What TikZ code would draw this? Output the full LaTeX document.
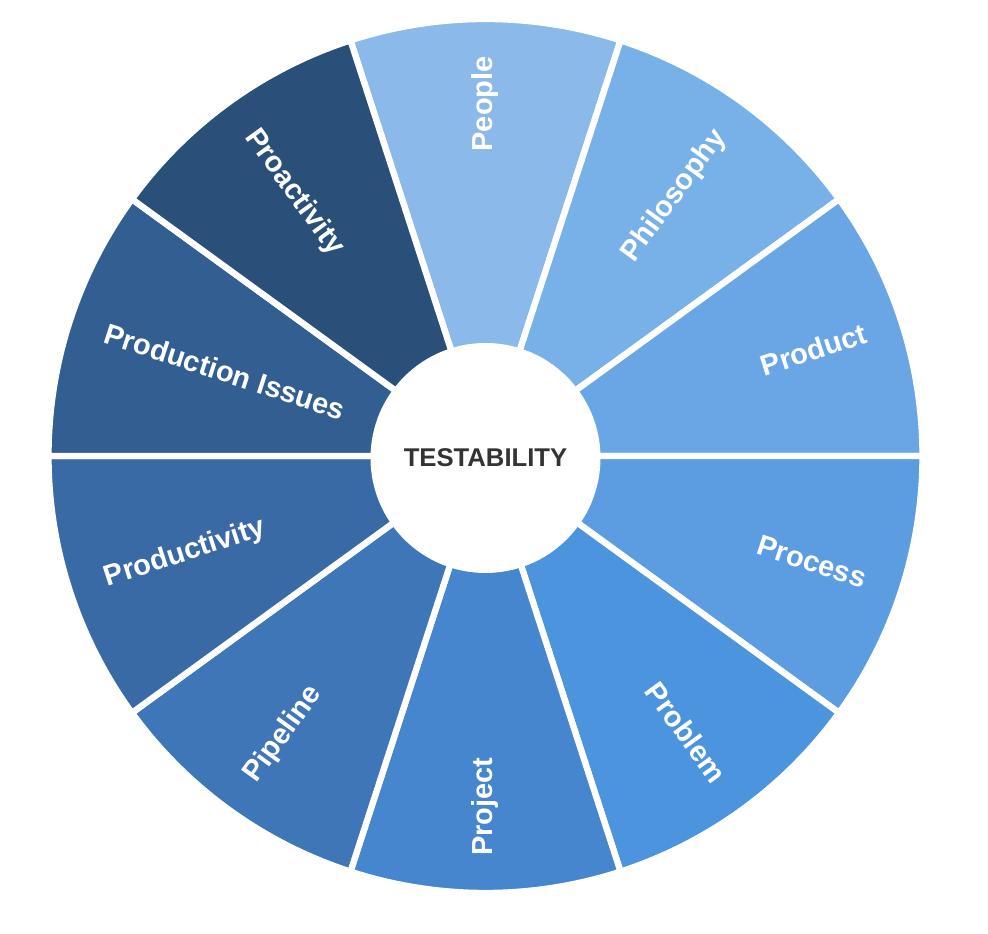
\documentclass[tikz,border=0pt]{standalone}
\usepackage{fontspec}
\setsansfont{Liberation Sans}
\definecolor{cpeople}{HTML}{8AB9EA}
\definecolor{cphilosophy}{HTML}{78B0E8}
\definecolor{cproduct}{HTML}{6AA6E5}
\definecolor{cprocess}{HTML}{5C9DE2}
\definecolor{cproblem}{HTML}{4C94DE}
\definecolor{cproject}{HTML}{4586CF}
\definecolor{cpipeline}{HTML}{3E76B8}
\definecolor{cproductivity}{HTML}{3A6AA6}
\definecolor{cissues}{HTML}{325E92}
\definecolor{cproactivity}{HTML}{2A4F78}
\definecolor{hubtext}{HTML}{333333}
\tikzset{
  sector/.style={draw=white,line width=3.6pt,line join=round},
  seglabel/.style={text=white,inner sep=0pt,font=\sffamily\bfseries\fontsize{16.5}{18}\selectfont},
}

\begin{document}
\begin{tikzpicture}[x=0.2mm,y=0.2mm]
                    \useasboundingbox (-485.5,-478) rectangle (502.5,456);
                    \draw[sector,fill=cpeople] (0,0) -- (72:437) arc[start angle=72,end angle=108,radius=437] -- cycle;
                    \draw[sector,fill=cphilosophy] (0,0) -- (36:437) arc[start angle=36,end angle=72,radius=437] -- cycle;
                    \draw[sector,fill=cproduct] (0,0) -- (0:437) arc[start angle=0,end angle=36,radius=437] -- cycle;
                    \draw[sector,fill=cprocess] (0,0) -- (-36:437) arc[start angle=-36,end angle=0,radius=437] -- cycle;
                    \draw[sector,fill=cproblem] (0,0) -- (-72:437) arc[start angle=-72,end angle=-36,radius=437] -- cycle;
                    \draw[sector,fill=cproject] (0,0) -- (-108:437) arc[start angle=-108,end angle=-72,radius=437] -- cycle;
                    \draw[sector,fill=cpipeline] (0,0) -- (-144:437) arc[start angle=-144,end angle=-108,radius=437] -- cycle;
                    \draw[sector,fill=cproductivity] (0,0) -- (180:437) arc[start angle=180,end angle=216,radius=437] -- cycle;
                    \draw[sector,fill=cissues] (0,0) -- (144:437) arc[start angle=144,end angle=180,radius=437] -- cycle;
                    \draw[sector,fill=cproactivity] (0,0) -- (108:437) arc[start angle=108,end angle=144,radius=437] -- cycle;
                    \node[circle,fill=white,minimum size=46mm,inner sep=0pt,text=hubtext,font=\sffamily\bfseries\fontsize{14.6}{16}\selectfont] (hub) at (0,-2) {TESTABILITY};
                    \node[seglabel,rotate=90,anchor=east] (people) at (90:400) {People};
                    \node[seglabel,rotate=54,anchor=east] (philosophy) at (54:400) {Philosophy};
                    \node[seglabel,rotate=18,anchor=east] (product) at (18:400) {Product};
                    \node[seglabel,rotate=-18,anchor=east] (process) at (-18:400) {Process};
                    \node[seglabel,rotate=-54,anchor=east] (problem) at (-54:400) {Problem};
                    \node[seglabel,rotate=90,anchor=west] (project) at (-90:400) {Project};
                    \node[seglabel,rotate=54,anchor=west] (pipeline) at (-126:400) {Pipeline};
                    \node[seglabel,rotate=18,anchor=west] (productivity) at (-162:400) {Productivity};
                    \node[seglabel,rotate=-18,anchor=west] (issues) at (162:400) {Production Issues};
                    \node[seglabel,rotate=-54,anchor=west] (proactivity) at (126:400) {Proactivity};
                \end{tikzpicture}
\end{document}
